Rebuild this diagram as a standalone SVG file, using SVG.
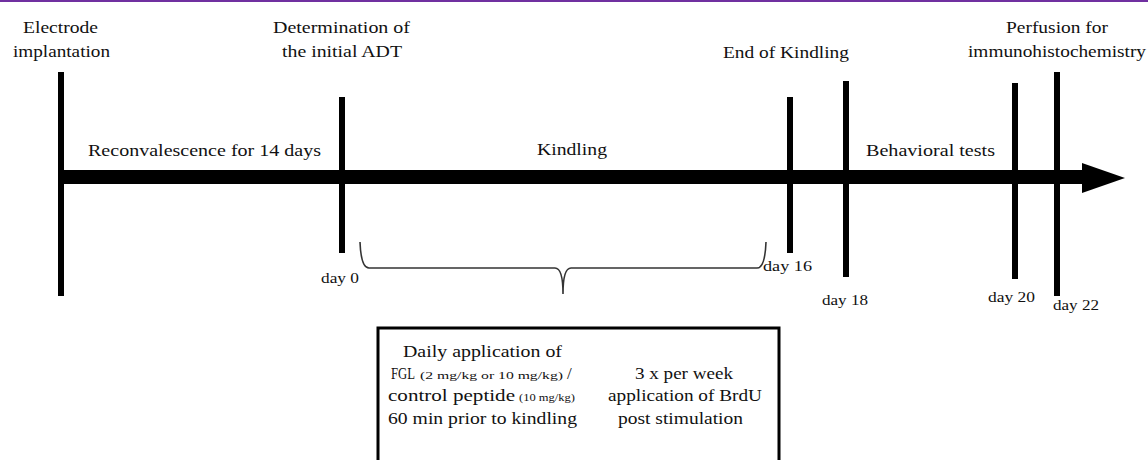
<svg xmlns="http://www.w3.org/2000/svg" width="1148" height="460" viewBox="0 0 1148 460">
<style>
.t{font-family:"Liberation Serif","Times New Roman",serif;font-size:17px;fill:#111}
.d{font-family:"Liberation Serif","Times New Roman",serif;font-size:15px;fill:#111}
.s{font-family:"Liberation Serif","Times New Roman",serif;font-size:11px;fill:#111}
.bar{fill:#000}
</style>
<rect x="0" y="0" width="1148" height="460" fill="#fff"/>
<rect x="0" y="0" width="1148" height="2" fill="#7030a0"/>
<g id="connectors">
<rect class="bar" x="62" y="170" width="1022" height="14"/>
<polygon class="bar" points="1082,163 1125,178 1082,193"/>
<path d="M360,242 Q361,268 369,268 L555,268 Q563,268 563,294 Q563,268 571,268 L757,268 Q765,268 766,242" fill="none" stroke="#333" stroke-width="1.6"/>
</g>
<g id="electrode">
<rect class="bar" x="58" y="72" width="6" height="224"/>
<text class="t" x="23" y="33" textLength="75" lengthAdjust="spacingAndGlyphs">Electrode</text>
<text class="t" x="13" y="57" textLength="97" lengthAdjust="spacingAndGlyphs">implantation</text>
</g>
<g id="day0">
<rect class="bar" x="339" y="97" width="6" height="156"/>
<text class="t" x="273" y="33" textLength="137" lengthAdjust="spacingAndGlyphs">Determination of</text>
<text class="t" x="282" y="57" textLength="120" lengthAdjust="spacingAndGlyphs">the initial ADT</text>
<text class="d" x="321" y="283" textLength="38" lengthAdjust="spacingAndGlyphs">day 0</text>
</g>
<g id="day16">
<rect class="bar" x="787" y="97" width="6" height="156"/>
<text class="t" x="723" y="58" textLength="126" lengthAdjust="spacingAndGlyphs">End of Kindling</text>
<text class="d" x="763" y="271" textLength="49" lengthAdjust="spacingAndGlyphs">day 16</text>
</g>
<g id="day18">
<rect class="bar" x="843" y="81" width="6" height="196"/>
<text class="d" x="822" y="305" textLength="46" lengthAdjust="spacingAndGlyphs">day 18</text>
</g>
<g id="day20">
<rect class="bar" x="1012" y="83" width="6" height="196"/>
<text class="d" x="988" y="302" textLength="47" lengthAdjust="spacingAndGlyphs">day 20</text>
</g>
<g id="day22">
<rect class="bar" x="1054" y="72" width="6" height="224"/>
<text class="t" x="1006" y="33" textLength="102" lengthAdjust="spacingAndGlyphs">Perfusion for</text>
<text class="t" x="968" y="57" textLength="178" lengthAdjust="spacingAndGlyphs">immunohistochemistry</text>
<text class="d" x="1053" y="310" textLength="46" lengthAdjust="spacingAndGlyphs">day 22</text>
</g>
<g id="phase-labels">
<text class="t" x="88" y="156" textLength="233" lengthAdjust="spacingAndGlyphs">Reconvalescence for 14 days</text>
<text class="t" x="537" y="155" textLength="70" lengthAdjust="spacingAndGlyphs">Kindling</text>
<text class="t" x="866" y="156" textLength="129" lengthAdjust="spacingAndGlyphs">Behavioral tests</text>
</g>
<g id="treatment-box">
<path d="M378,462 L378,328 L779,328 L779,462" fill="none" stroke="#000" stroke-width="3"/>
<text class="t" x="403" y="357" textLength="159" lengthAdjust="spacingAndGlyphs">Daily application of</text>
<text class="t" x="391" y="379" textLength="24" lengthAdjust="spacingAndGlyphs">FGL</text>
<text class="s" x="420" y="379" textLength="143" lengthAdjust="spacingAndGlyphs">(2 mg/kg or 10 mg/kg)</text>
<text class="t" x="567" y="379">/</text>
<text class="t" x="388" y="401" textLength="127" lengthAdjust="spacingAndGlyphs">control peptide</text>
<text class="s" x="519" y="401" textLength="56" lengthAdjust="spacingAndGlyphs">(10 mg/kg)</text>
<text class="t" x="388" y="424" textLength="189" lengthAdjust="spacingAndGlyphs">60 min prior to kindling</text>
<text class="t" x="635" y="379" textLength="98" lengthAdjust="spacingAndGlyphs">3 x per week</text>
<text class="t" x="608" y="401" textLength="154" lengthAdjust="spacingAndGlyphs">application of BrdU</text>
<text class="t" x="618" y="424" textLength="125" lengthAdjust="spacingAndGlyphs">post stimulation</text>
</g>
</svg>
